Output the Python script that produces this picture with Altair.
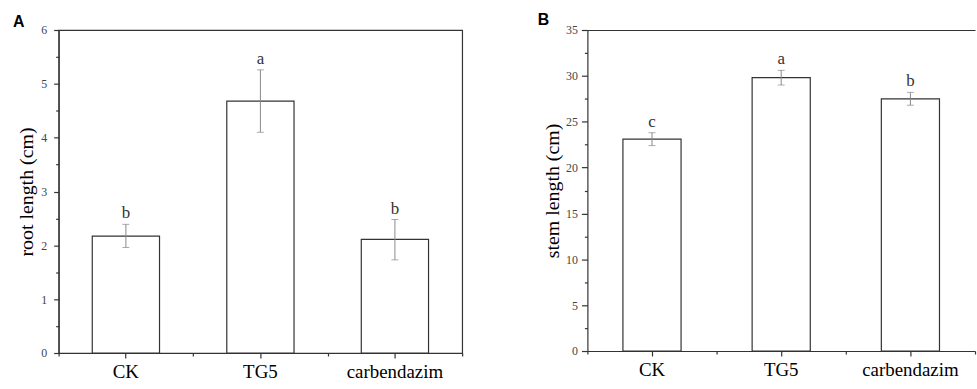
import altair as alt
import pandas as pd

categories = ["CK", "TG5", "carbendazim"]

root_mean = [2.17, 4.68, 2.11]
root_low = [1.96, 4.10, 1.73]
root_high = [2.39, 5.26, 2.48]
root_letters = ["b", "a", "b"]

stem_mean = [23.1, 29.8, 27.5]
stem_low = [22.4, 29.0, 26.8]
stem_high = [23.8, 30.6, 28.2]
stem_letters = ["c", "a", "b"]

root_major = [0, 1, 2, 3, 4, 5, 6]
root_minor = [0.5, 1.5, 2.5, 3.5, 4.5, 5.5]
stem_major = [0, 5, 10, 15, 20, 25, 30, 35]
stem_minor = [2.5, 7.5, 12.5, 17.5, 22.5, 27.5, 32.5]

SERIF = "Liberation Serif"
DARK = "#333333"


def panel(means, lows, highs, letters, ytitle, ymax, major, minor, w, h,
          barband, tick_size, label_pad, title_pad, tag, tag_x, tag_y, boxed):
    df = pd.DataFrame({"cat": categories, "mean": means, "lo": lows,
                       "hi": highs, "letter": letters})
    xscale = alt.Scale(domain=categories, paddingInner=0, paddingOuter=0)
    yscale = alt.Scale(domain=[0, ymax], nice=False, zero=True)
    base = alt.Chart(df)

    bars = base.mark_bar(fill="white", stroke=DARK, strokeWidth=1.2,
                         width=alt.RelativeBandSize(barband)).encode(
        x=alt.X("cat:N", sort=categories, scale=xscale,
                axis=alt.Axis(title=None, orient="bottom", labelAngle=0,
                              labelFont=SERIF, labelFontSize=19,
                              labelColor="black", tickSize=5,
                              tickColor=DARK, domainColor=DARK,
                              domainWidth=1.2, tickWidth=1.2,
                              labelPadding=5)),
        y=alt.Y("mean:Q", scale=yscale,
                axis=alt.Axis(title=ytitle, orient="left", values=major,
                              titleFont=SERIF, titleFontSize=20,
                              titleFontWeight="normal", titleColor="black",
                              titlePadding=title_pad,
                              labelFont=SERIF, labelFontSize=12,
                              labelColor="#444444", tickSize=tick_size,
                              tickColor=DARK, tickWidth=1.2,
                              domainColor=DARK, domainWidth=1.2,
                              labelPadding=label_pad, grid=False)),
    )

    rules = base.mark_rule(color="#888888", strokeWidth=1).encode(
        x=alt.X("cat:N", sort=categories,
                axis=alt.Axis(title=None, orient="bottom", labels=False,
                              domain=False, tickBand="extent", tickSize=3,
                              tickColor=DARK, tickWidth=1.2)),
        y=alt.Y("lo:Q", axis=alt.Axis(title=None, orient="left",
                                      values=minor, labels=False,
                                      domain=False, tickSize=3,
                                      tickColor=DARK, tickWidth=1.2,
                                      grid=False)),
        y2="hi:Q",
    )

    cap_lo = base.mark_tick(color="#888888", size=7, thickness=1,
                            orient="horizontal").encode(
        x=alt.X("cat:N", sort=categories, axis=None),
        y=alt.Y("lo:Q", axis=None),
    )
    cap_hi = base.mark_tick(color="#888888", size=7, thickness=1,
                            orient="horizontal").encode(
        x=alt.X("cat:N", sort=categories, axis=None),
        y=alt.Y("hi:Q", axis=None),
    )

    if boxed:
        top_axis = None
    else:
        top_axis = alt.Axis(title=None, orient="top", labels=False,
                            ticks=False, domain=True, domainColor=DARK,
                            domainWidth=1.2)
    xtext = alt.X("cat:N", sort=categories, axis=top_axis)
    letters_layer = base.mark_text(font=SERIF, fontSize=17, color=DARK,
                                   baseline="bottom", dy=-2).encode(
        x=xtext,
        y=alt.Y("hi:Q", axis=None),
        text="letter:N",
    )

    tag_layer = alt.Chart(pd.DataFrame({"tag": [tag]})).mark_text(
        font="Liberation Sans", fontSize=16, fontWeight="bold",
        color="black", align="left", baseline="top").encode(
        x=alt.value(tag_x), y=alt.value(tag_y), text="tag:N")

    layered = alt.layer(bars, rules, cap_lo, cap_hi, letters_layer,
                        tag_layer).resolve_axis(x="independent",
                                                y="independent")
    if boxed:
        view = alt.ViewBackground(stroke=DARK, strokeWidth=1.2, fill="white")
    else:
        view = alt.ViewBackground(stroke="transparent", fill="white")
    return layered.properties(width=w, height=h, view=view)


panel_a = panel(root_mean, root_low, root_high, root_letters,
                "root length (cm)", 6, root_major, root_minor, 406, 325,
                0.5, 5, 7, 4, "A", -46, -16, True)
panel_b = panel(stem_mean, stem_low, stem_high, stem_letters,
                "stem length (cm)", 35, stem_major, stem_minor, 390, 323,
                0.45, 6, 4, 3, "B", -50, -18, False)

chart = alt.hconcat(panel_a, panel_b, spacing=73).properties(
    padding={"left": 12, "top": 10, "right": 0, "bottom": 0},
    background="white",
)

chart.save("out.html", embed_options={"renderer": "svg", "actions": False})
